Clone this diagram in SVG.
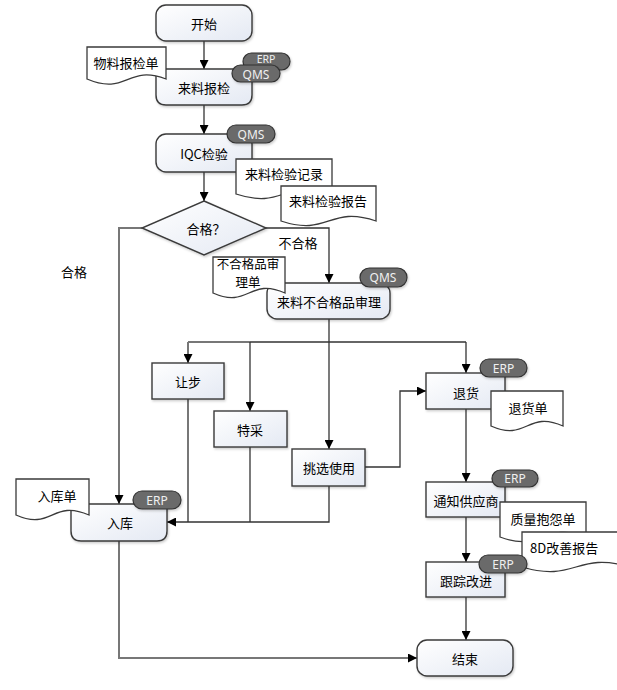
<svg xmlns="http://www.w3.org/2000/svg" width="617" height="690" viewBox="0 0 617 690">
<defs>
<linearGradient id="g" x1="0" y1="0" x2="1" y2="1">
<stop offset="0" stop-color="#ffffff"/>
<stop offset="1" stop-color="#e4e9f3"/>
</linearGradient>
<filter id="sh" x="-10%" y="-10%" width="130%" height="140%">
<feDropShadow dx="1" dy="1.5" stdDeviation="1" flood-color="#000" flood-opacity="0.2"/>
</filter>
<marker id="ar" viewBox="0 0 10 10" refX="10" refY="5" markerWidth="9" markerHeight="9" markerUnits="userSpaceOnUse" orient="auto">
<path d="M0,0 L10,5 L0,10 z" fill="#000"/>
</marker>
</defs>
<style>
.box{fill:url(#g);stroke:#3a3a3a;stroke-width:1.4;filter:url(#sh)}
.doc{fill:#fff;stroke:#3a3a3a;stroke-width:1.3}
.badge{fill:#6b6b6b;stroke:#333;stroke-width:1.2;filter:url(#sh)}
.t{font-family:"Noto Sans CJK SC","Microsoft YaHei",sans-serif;font-size:13px;fill:#000;text-anchor:middle;dominant-baseline:central}
.bt{font-family:"Noto Sans","Open Sans",sans-serif;font-size:12px;fill:#f0f0f0;text-anchor:middle;dominant-baseline:central}
.c{fill:none;stroke:#333;stroke-width:1.3}
.cg{fill:none;stroke:#777;stroke-width:2}
.a{marker-end:url(#ar)}
</style>

<g id="connectors">
<path class="c a" d="M204,41 V69"/>
<path class="c a" d="M204,105 V134"/>
<path class="c a" d="M204,172 V201"/>
<path class="cg a" d="M142,228 H119 V504"/>
<path class="c a" d="M265,228 H329 V283"/>
<path class="c" d="M329,319 V342"/>
<path class="cg" d="M188,342 H250"/>
<path class="c" d="M250,342 H466"/>
<path class="cg a" d="M188,342 V363"/>
<path class="c a" d="M250,342 V411"/>
<path class="c a" d="M329,342 V449"/>
<path class="c a" d="M466,342 V373"/>
<path class="c a" d="M365,467 H400 V391 H426"/>
<path class="c a" d="M466,409 V482"/>
<path class="c a" d="M466,517 V562"/>
<path class="c a" d="M466,597 V640"/>
<path class="cg" d="M188,399 V522"/>
<path class="c" d="M250,447 V522"/>
<path class="c a" d="M329,486 V522 H167"/>
<path class="cg a" d="M119,541 V658 H417"/>
</g>

<g id="n-start">
<rect class="box" x="156" y="5" width="96" height="36" rx="10"/>
<text class="t" x="204" y="23">开始</text>
</g>

<g id="n-report">
<path class="box" d="M156,69 H252 V95 Q252,105 242,105 H166 Q156,105 156,95 Z"/>
<text class="t" x="204" y="87">来料报检</text>
</g>
<g id="d-report">
<path class="doc" d="M87,47 H166 V79 C127,64 127,96 87,79 Z"/>
<text class="t" x="126" y="62">物料报检单</text>
</g>
<g id="b-report">
<rect class="badge" x="243" y="53" width="47" height="17" rx="8.5"/>
<text class="bt" x="266" y="59" style="font-size:10.5px">ERP</text>
<rect class="badge" x="232" y="65" width="48" height="17" rx="8.5"/>
<text class="bt" x="256" y="74">QMS</text>
</g>

<g id="n-iqc">
<rect class="box" x="156" y="134" width="96" height="38" rx="10"/>
<text class="t" x="204" y="153">IQC检验</text>
</g>
<g id="d-iqc1">
<path class="doc" d="M236,159 H332 V194 C284,178 284,210 236,194 Z"/>
<text class="t" x="284" y="173">来料检验记录</text>
</g>
<g id="d-iqc2">
<path class="doc" d="M281,186 H376 V221 C329,205 329,237 281,221 Z"/>
<text class="t" x="328" y="200">来料检验报告</text>
</g>
<g id="b-iqc">
<rect class="badge" x="227" y="125" width="48" height="18" rx="9"/>
<text class="bt" x="251" y="134">QMS</text>
</g>

<g id="n-decision">
<path class="box" d="M204,201 L266,228 L204,255 L142,228 Z"/>
<text class="t" x="206" y="228">合格？</text>
</g>
<text class="t" x="298" y="242">不合格</text>
<text class="t" x="74" y="271">合格</text>

<g id="n-mrb">
<rect class="box" x="267" y="283" width="123" height="36" rx="10"/>
<text class="t" x="329" y="301">来料不合格品审理</text>
</g>
<g id="d-mrb">
<path class="doc" d="M213,257 H285 V293 C249,277 249,309 213,293 Z"/>
<text class="t" x="248" y="263" style="font-size:12.5px">不合格品审</text>
<text class="t" x="248" y="281" style="font-size:12.5px">理单</text>
</g>
<g id="b-mrb">
<rect class="badge" x="360" y="268" width="47" height="19" rx="9.5"/>
<text class="bt" x="383" y="277.5">QMS</text>
</g>

<g id="n-concession">
<rect class="box" x="152" y="363" width="72" height="36"/>
<text class="t" x="188" y="381">让步</text>
</g>
<g id="n-special">
<rect class="box" x="214" y="411" width="73" height="36"/>
<text class="t" x="250" y="429">特采</text>
</g>
<g id="n-sort">
<rect class="box" x="292" y="449" width="73" height="37"/>
<text class="t" x="329" y="467">挑选使用</text>
</g>

<g id="n-return">
<rect class="box" x="426" y="373" width="79" height="36"/>
<text class="t" x="466" y="392">退货</text>
</g>
<g id="d-return">
<path class="doc" d="M491,391 H563 V426 C527,410 527,442 491,426 Z"/>
<text class="t" x="528" y="407">退货单</text>
</g>
<g id="b-return">
<rect class="badge" x="480" y="359" width="47" height="18" rx="9"/>
<text class="bt" x="503.5" y="368">ERP</text>
</g>

<g id="n-notify">
<rect class="box" x="426" y="482" width="79" height="35"/>
<text class="t" x="466" y="500">通知供应商</text>
</g>
<g id="d-complaint">
<path class="doc" d="M500,502 H586 V537 C543,521 543,553 500,537 Z"/>
<text class="t" x="543" y="518">质量抱怨单</text>
</g>
<g id="d-8d">
<path class="doc" d="M522,532 H630 V567 C576,551 576,583 522,567 Z"/>
<text class="t" x="530" y="547" style="text-anchor:start">8D改善报告</text>
</g>
<g id="b-notify">
<rect class="badge" x="492" y="470" width="46" height="17" rx="8.5"/>
<text class="bt" x="515" y="478.5">ERP</text>
</g>

<g id="n-track">
<rect class="box" x="426" y="562" width="79" height="35"/>
<text class="t" x="466" y="580">跟踪改进</text>
</g>
<g id="b-track">
<rect class="badge" x="479" y="555" width="48" height="18" rx="9"/>
<text class="bt" x="503" y="564">ERP</text>
</g>

<g id="n-store">
<path class="box" d="M71,504 H167 V531 Q167,541 157,541 H81 Q71,541 71,531 Z"/>
<text class="t" x="120" y="522">入库</text>
</g>
<g id="d-store">
<path class="doc" d="M16,479 H89 V515 C52,499 52,531 16,515 Z"/>
<text class="t" x="57" y="495">入库单</text>
</g>
<g id="b-store">
<rect class="badge" x="133" y="491" width="48" height="18" rx="9"/>
<text class="bt" x="157" y="500">ERP</text>
</g>

<g id="n-end">
<rect class="box" x="417" y="640" width="96" height="36" rx="10"/>
<text class="t" x="465" y="658">结束</text>
</g>
</svg>
